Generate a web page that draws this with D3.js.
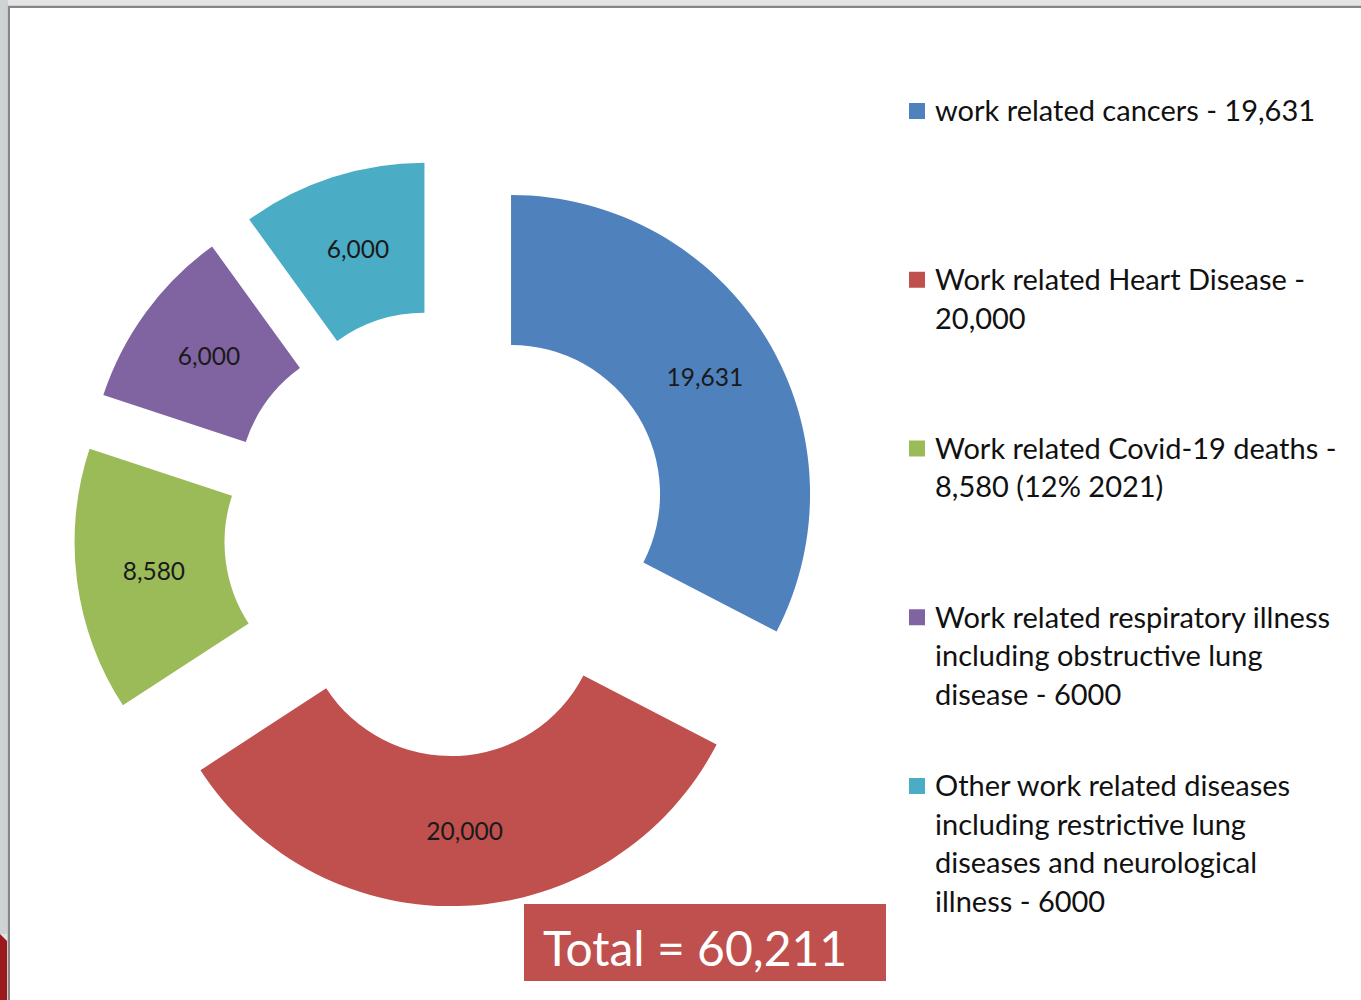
<!DOCTYPE html>
<html>
<head>
<meta charset="utf-8">
<script src="https://cdn.jsdelivr.net/npm/d3@7"></script>
<style>
  html, body { margin: 0; padding: 0; background: #e4e4e4; }
  svg { display: block; }
</style>
</head>
<body>
<svg id="chart" width="1361" height="1000"></svg>
<script>
// ---- data ----
const categories = [
  "work related cancers",
  "Work related Heart Disease",
  "Work related Covid-19 deaths",
  "Work related respiratory illness",
  "Other work related diseases"
];
const values = [19631, 20000, 8580, 6000, 6000];
const sliceLabels = ["19,631", "20,000", "8,580", "6,000", "6,000"];
const legendLines = [
  ["work related cancers - 19,631"],
  ["Work related Heart Disease -", "20,000"],
  ["Work related Covid-19 deaths -", "8,580 (12% 2021)"],
  ["Work related respiratory illness", "including obstructive lung", "disease - 6000"],
  ["Other work related diseases", "including restrictive lung", "diseases and neurological", "illness - 6000"]
];
const colors = ["#4F81BD", "#C0504D", "#9BBB59", "#8064A2", "#4BACC6"];
const totalLabel = "Total = 60,211";

// ---- layout ----
const W = 1361, H = 1000;
const svg = d3.select("#chart");
const FONT = "Lato, 'Open Sans', 'Noto Sans', sans-serif";

// frame
svg.append("rect").attr("x", 0).attr("y", 0).attr("width", W).attr("height", H).attr("fill", "#e4e4e4");
svg.append("rect").attr("x", 9).attr("y", 7).attr("width", W - 9).attr("height", H - 7)
  .attr("fill", "#ffffff").attr("stroke", "#868686").attr("stroke-width", 2.5);
svg.append("rect").attr("x", 10).attr("y", 8).attr("width", W - 10).attr("height", H - 8).attr("fill", "#ffffff");
svg.append("path").attr("d", "M0,934 L7,941 L7,1000 L0,1000 Z").attr("fill", "#9a1a1d");
svg.append("rect").attr("x", 0).attr("y", 0).attr("width", 8).attr("height", 934).attr("fill", "#c2c6c8").attr("opacity", 0.6);

// donut
const cx = 447.4, cy = 532.7;
const outerR = 299, innerR = 149, explode = 74.5;

const pie = d3.pie().sort(null).value(d => d)(values);
const arc = d3.arc().innerRadius(innerR).outerRadius(outerR);
const labelArc = d3.arc().innerRadius(224).outerRadius(224);

const g = svg.append("g").attr("transform", `translate(${cx},${cy})`);
const slices = g.selectAll("g.slice").data(pie).join("g")
  .attr("class", "slice")
  .attr("transform", d => {
    const a = (d.startAngle + d.endAngle) / 2;
    return `translate(${explode * Math.sin(a)},${-explode * Math.cos(a)})`;
  });

slices.append("path")
  .attr("d", arc)
  .attr("fill", (d, i) => colors[i]);

slices.append("text")
  .attr("transform", d => `translate(${labelArc.centroid(d)})`)
  .attr("text-anchor", "middle")
  .attr("dx", 2.5)
  .attr("dy", "0.36em")
  .attr("font-family", FONT)
  .attr("font-size", 24.5)
  .attr("fill", "#1a1a1a")
  .text((d, i) => sliceLabels[i]);

// legend
const legendY = d3.scaleLinear().domain([0, 4]).range([111, 786]);
const lineH = 38.5;
const legendFont = 29;
const lg = svg.append("g");
legendLines.forEach((lines, i) => {
  const y0 = legendY(i);
  lg.append("rect")
    .attr("x", 909).attr("y", y0 - 8).attr("width", 16).attr("height", 16)
    .attr("fill", colors[i]);
  lines.forEach((ln, j) => {
    lg.append("text")
      .attr("x", 935)
      .attr("y", y0 + j * lineH)
      .attr("dy", "0.36em")
      .attr("font-family", FONT)
      .attr("font-size", legendFont)
      .attr("fill", "#111")
      .text(ln);
  });
});

// total box
svg.append("rect").attr("x", 524).attr("y", 904).attr("width", 362).attr("height", 77).attr("fill", "#C0504D");
svg.append("text")
  .attr("x", 543).attr("y", 966)
  .attr("font-family", FONT)
  .attr("font-size", 48)
  .attr("fill", "#ffffff")
  .text(totalLabel);
</script>
</body>
</html>
